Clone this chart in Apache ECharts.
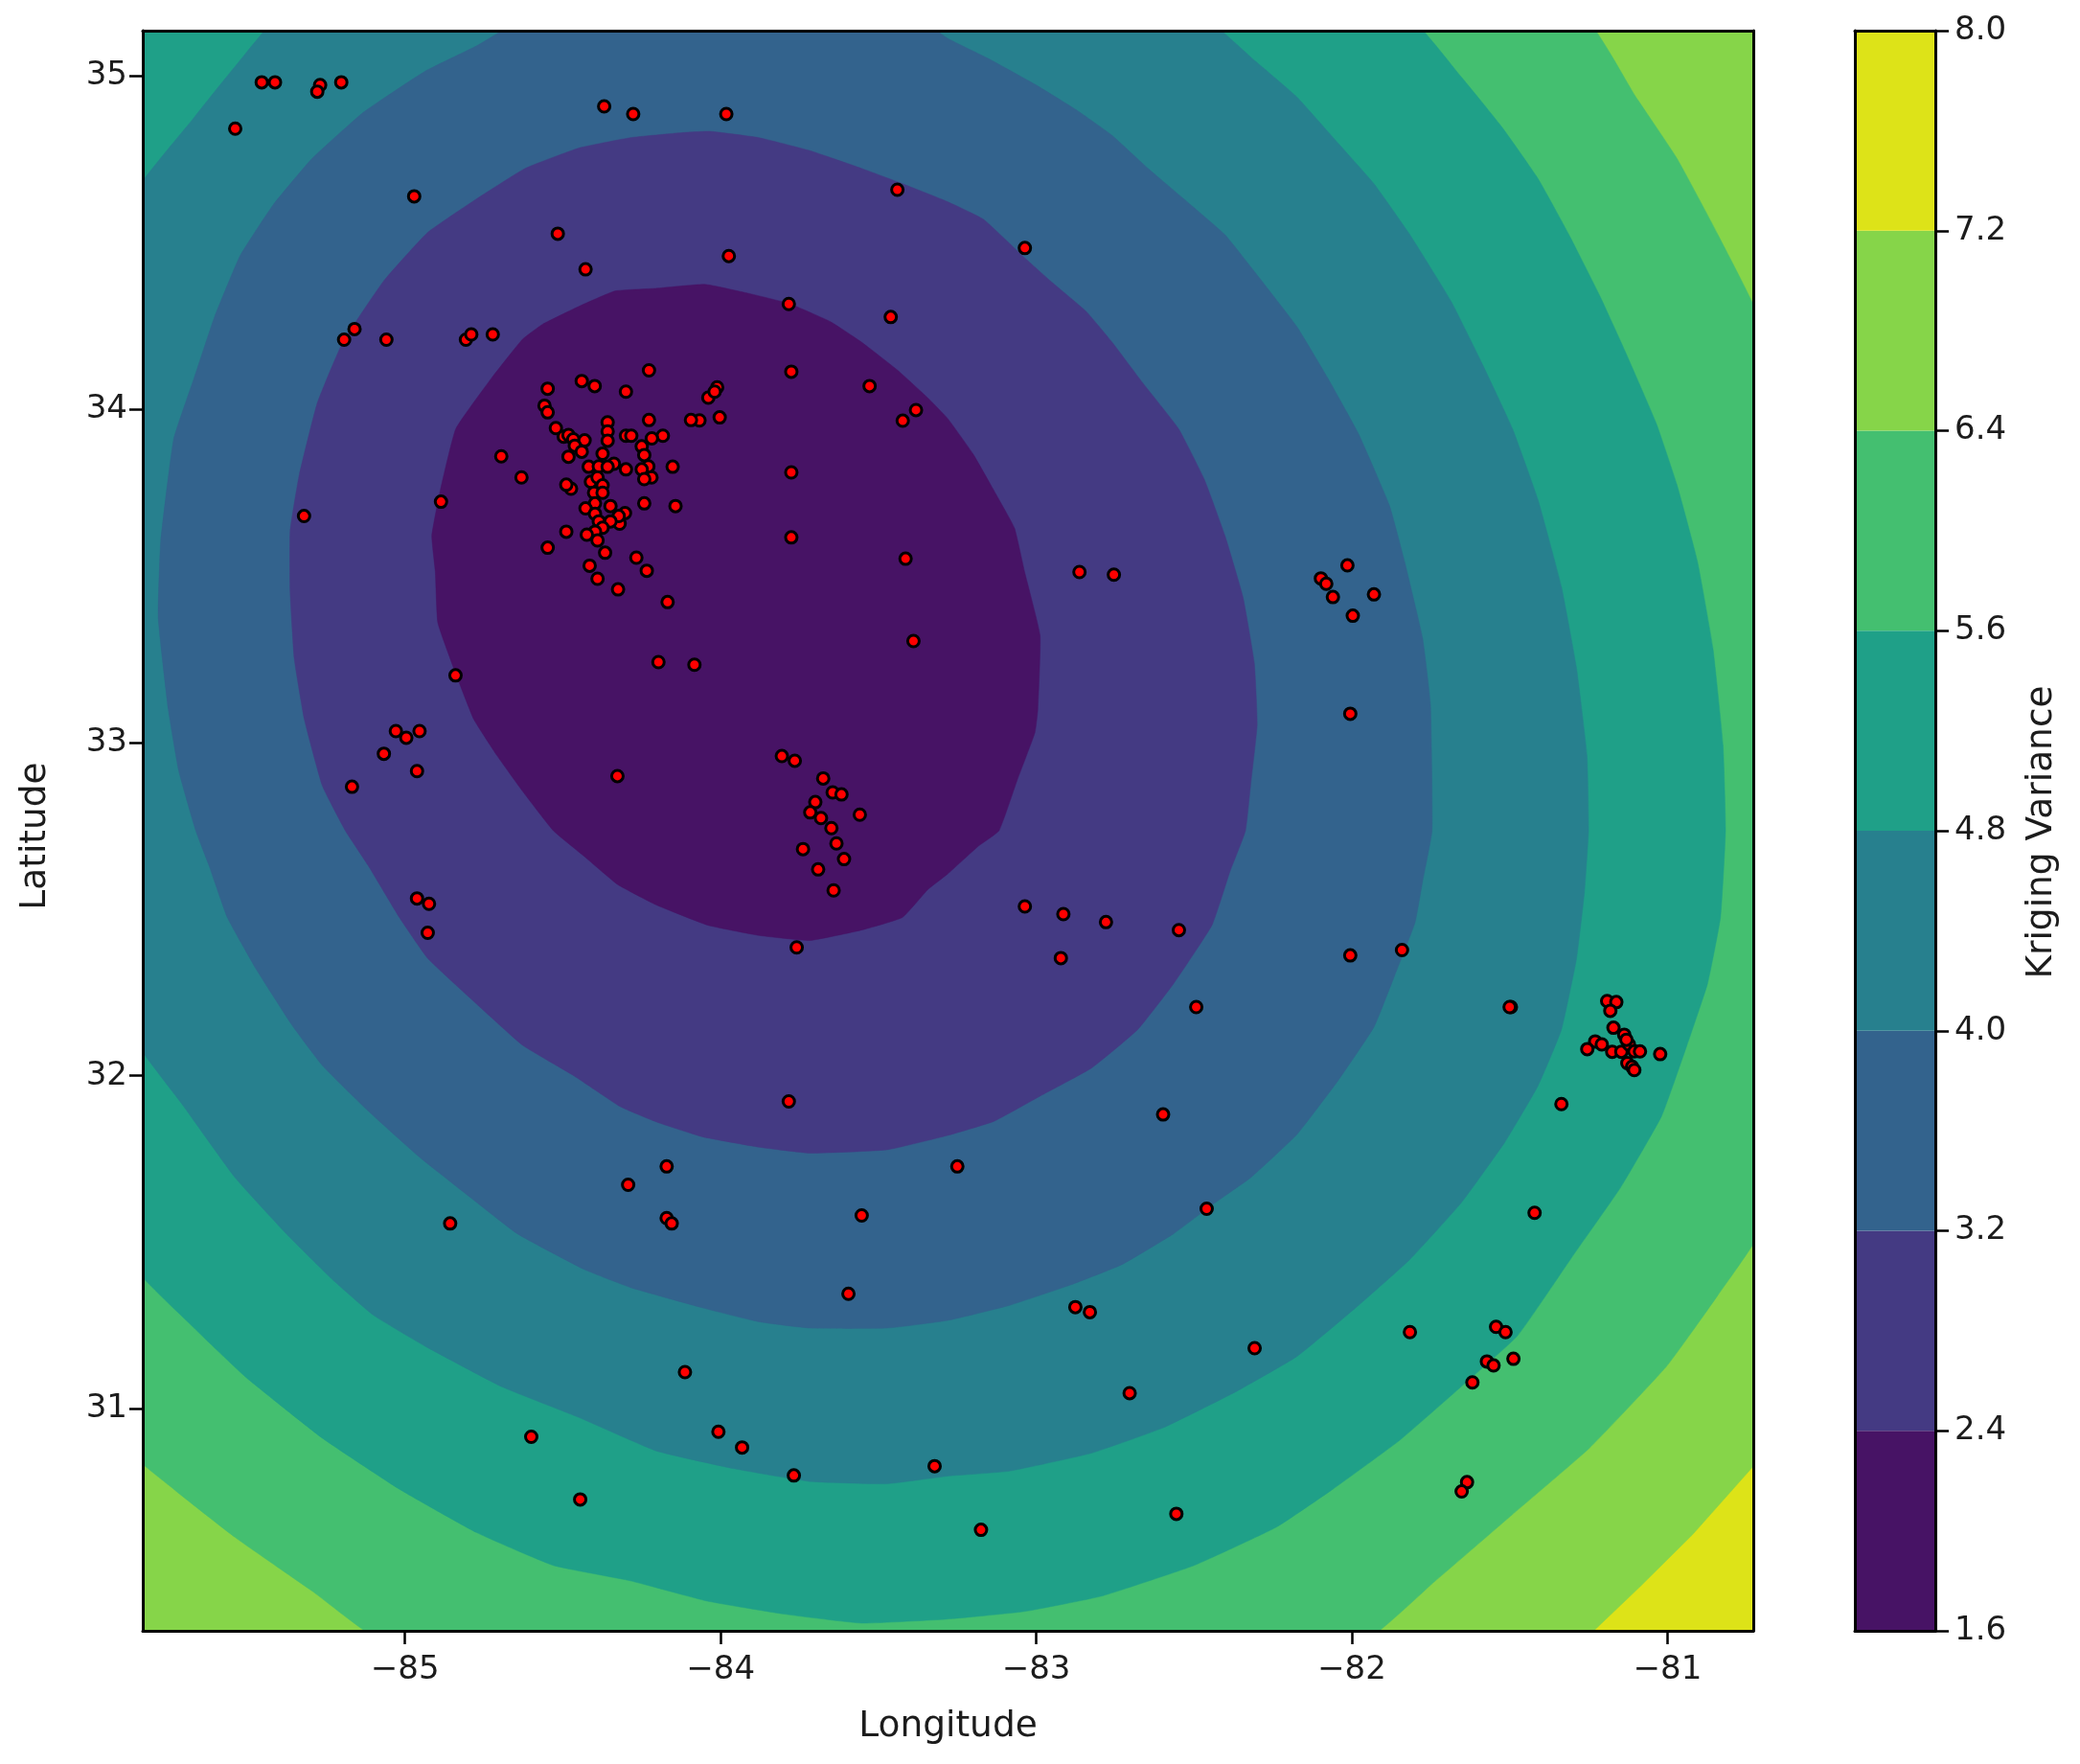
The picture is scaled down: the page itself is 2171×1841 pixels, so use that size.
<!DOCTYPE html>
<html><head><meta charset="utf-8">
<style>html,body{margin:0;padding:0;background:#fff}#c{width:2171px;height:1841px}</style>
<script src="https://cdn.jsdelivr.net/npm/echarts@6/dist/echarts.min.js"></script>
</head><body><div id="c"></div>
<script>
const lonTicks=[-85,-84,-83,-82,-81];
const latTicks=[31,32,33,34,35];
const levels=[1.6,2.4,3.2,4.0,4.8,5.6,6.4,7.2,8.0];
const bandColors=['#471365','#443a83','#33638d','#27808e','#1fa088','#44bf70','#86d549','#dde318'];
const lonRange=[-85.831,-80.728];
const latRange=[30.335,35.135];

const fullField=[[-85.84,35.14],[-80.72,35.14],[-80.72,30.33],[-85.84,30.33]];
const below72=[[-85.84,35.14],[-80.745,35.14],[-80.72,35.115],[-80.72,30.837],[-80.921,30.623],[-81.084,30.47],[-81.239,30.33],[-85.84,30.33]];
const below64=[[-86.2,35.5],[-81.29,35.2],[-81.1,34.936],[-80.97,34.752],[-80.84,34.523],[-80.68,34.2],[-80.68,31.58],[-80.84,31.342],[-81.003,31.128],[-81.247,30.883],[-81.491,30.684],[-81.735,30.485],[-82.0,30.28],[-85.03,30.28],[-85.294,30.454],[-85.538,30.615],[-85.733,30.76],[-85.9,30.904]];
const below56=[[-86.2,35.5],[-81.85,35.2],[-81.654,34.997],[-81.523,34.844],[-81.41,34.691],[-81.312,34.523],[-81.214,34.339],[-81.133,34.171],[-81.035,33.956],[-80.97,33.773],[-80.905,33.543],[-80.856,33.283],[-80.824,32.992],[-80.816,32.735],[-80.832,32.475],[-80.873,32.276],[-80.938,32.092],[-81.019,31.878],[-81.149,31.664],[-81.296,31.465],[-81.475,31.22],[-81.654,31.067],[-81.849,30.906],[-82.06,30.76],[-82.239,30.646],[-82.5,30.531],[-82.793,30.439],[-83.037,30.393],[-83.281,30.37],[-83.554,30.358],[-83.798,30.385],[-84.042,30.424],[-84.286,30.485],[-84.53,30.531],[-84.774,30.63],[-85.018,30.76],[-85.262,30.913],[-85.506,31.097],[-85.668,31.243],[-85.9,31.48]];
const below48=[[-85.9,34.58],[-85.668,34.875],[-85.538,35.028],[-85.37,35.2],[-82.51,35.2],[-82.305,35.043],[-82.174,34.936],[-82.044,34.798],[-81.93,34.676],[-81.816,34.523],[-81.686,34.324],[-81.589,34.14],[-81.491,33.941],[-81.41,33.727],[-81.336,33.467],[-81.288,33.222],[-81.255,32.961],[-81.25,32.735],[-81.263,32.551],[-81.288,32.352],[-81.336,32.138],[-81.41,31.97],[-81.515,31.801],[-81.654,31.618],[-81.816,31.449],[-81.979,31.311],[-82.174,31.158],[-82.37,31.051],[-82.598,30.944],[-82.825,30.868],[-83.086,30.814],[-83.281,30.799],[-83.473,30.776],[-83.717,30.783],[-83.961,30.822],[-84.205,30.875],[-84.449,30.975],[-84.693,31.067],[-84.937,31.189],[-85.099,31.281],[-85.229,31.388],[-85.376,31.526],[-85.538,31.694],[-85.701,31.908],[-85.9,32.18]];
const below40=[[-84.56,35.2],[-83.42,35.2],[-83.281,35.112],[-83.151,35.051],[-83.004,34.974],[-82.874,34.898],[-82.76,34.821],[-82.646,34.722],[-82.532,34.63],[-82.402,34.523],[-82.305,34.408],[-82.174,34.247],[-82.077,34.094],[-81.979,33.926],[-81.881,33.711],[-81.833,33.543],[-81.776,33.313],[-81.751,33.114],[-81.746,32.735],[-81.776,32.582],[-81.8,32.459],[-81.865,32.299],[-81.93,32.146],[-82.044,31.985],[-82.174,31.824],[-82.321,31.694],[-82.435,31.618],[-82.565,31.526],[-82.728,31.434],[-82.89,31.373],[-83.086,31.311],[-83.281,31.266],[-83.473,31.243],[-83.717,31.243],[-83.879,31.262],[-84.058,31.304],[-84.286,31.365],[-84.432,31.419],[-84.644,31.526],[-84.79,31.633],[-84.953,31.755],[-85.115,31.893],[-85.262,32.031],[-85.359,32.153],[-85.473,32.322],[-85.563,32.475],[-85.62,32.628],[-85.663,32.735],[-85.717,32.915],[-85.75,33.099],[-85.782,33.375],[-85.774,33.604],[-85.733,33.91],[-85.668,34.094],[-85.603,34.278],[-85.522,34.461],[-85.416,34.615],[-85.294,34.752],[-85.132,34.89],[-84.937,35.013],[-84.774,35.089]];
const below32=[[-84.034,34.833],[-83.879,34.814],[-83.717,34.775],[-83.554,34.722],[-83.424,34.676],[-83.281,34.622],[-83.167,34.569],[-83.037,34.454],[-82.956,34.385],[-82.842,34.293],[-82.76,34.201],[-82.663,34.079],[-82.549,33.941],[-82.467,33.788],[-82.402,33.62],[-82.345,33.436],[-82.309,33.237],[-82.3,33.053],[-82.321,32.87],[-82.337,32.735],[-82.386,32.613],[-82.443,32.452],[-82.565,32.276],[-82.679,32.138],[-82.825,32.023],[-82.988,31.939],[-83.135,31.863],[-83.281,31.821],[-83.473,31.778],[-83.717,31.768],[-83.879,31.786],[-84.058,31.817],[-84.205,31.862],[-84.319,31.908],[-84.465,32.0],[-84.628,32.092],[-84.79,32.23],[-84.928,32.352],[-85.018,32.475],[-85.115,32.628],[-85.189,32.735],[-85.262,32.87],[-85.319,33.069],[-85.351,33.252],[-85.364,33.451],[-85.364,33.635],[-85.335,33.803],[-85.278,34.018],[-85.197,34.201],[-85.067,34.385],[-84.928,34.53],[-84.774,34.63],[-84.619,34.722],[-84.449,34.783],[-84.286,34.814],[-84.123,34.829]];
const below24=[[-84.05,34.374],[-83.912,34.347],[-83.782,34.316],[-83.652,34.262],[-83.554,34.201],[-83.44,34.117],[-83.343,34.033],[-83.281,33.972],[-83.2,33.865],[-83.126,33.742],[-83.069,33.643],[-83.037,33.512],[-82.988,33.321],[-82.995,33.099],[-83.004,33.03],[-83.061,32.885],[-83.118,32.735],[-83.183,32.689],[-83.281,32.605],[-83.343,32.559],[-83.424,32.475],[-83.554,32.437],[-83.717,32.406],[-83.879,32.421],[-84.042,32.452],[-84.205,32.513],[-84.327,32.574],[-84.432,32.658],[-84.53,32.735],[-84.628,32.854],[-84.709,32.961],[-84.782,33.069],[-84.839,33.206],[-84.896,33.359],[-84.904,33.512],[-84.915,33.62],[-84.888,33.757],[-84.839,33.941],[-84.725,34.094],[-84.628,34.209],[-84.563,34.255],[-84.449,34.308],[-84.335,34.354],[-84.205,34.362]];

const stationsNorth=[[-85.538,34.841],[-85.454,34.98],[-85.412,34.98],[-85.269,34.972],[-85.278,34.952],[-85.202,34.98],[-84.369,34.908],[-84.277,34.885],[-83.982,34.885],[-84.971,34.638],[-84.516,34.526],[-84.428,34.419],[-83.974,34.459],[-83.44,34.658],[-83.036,34.483],[-83.784,34.315],[-83.461,34.276],[-85.16,34.24],[-85.193,34.208],[-85.059,34.208],[-84.807,34.208],[-84.79,34.224],[-84.722,34.224],[-83.776,34.112],[-83.528,34.069],[-83.381,33.997],[-83.423,33.965]];
const stationsAtlanta=[[-84.227,34.116],[-84.44,34.084],[-84.399,34.069],[-84.548,34.061],[-84.3,34.052],[-84.558,34.01],[-84.548,33.99],[-84.227,33.967],[-84.067,33.966],[-84.094,33.967],[-84.003,33.975],[-84.011,34.065],[-84.039,34.034],[-84.019,34.052],[-84.358,33.96],[-84.522,33.943],[-84.358,33.933],[-84.358,33.905],[-84.497,33.917],[-84.482,33.922],[-84.467,33.909],[-84.431,33.906],[-84.462,33.89],[-84.44,33.872],[-84.482,33.857],[-84.374,33.866],[-84.695,33.858],[-84.3,33.92],[-84.283,33.92],[-84.183,33.92],[-84.218,33.912],[-84.25,33.888],[-84.242,33.862],[-84.152,33.827],[-84.418,33.827],[-84.386,33.828],[-84.338,33.836],[-84.358,33.827],[-84.3,33.819],[-84.229,33.828],[-84.25,33.819],[-84.219,33.795],[-84.242,33.79],[-84.411,33.782],[-84.39,33.795],[-84.631,33.795],[-84.474,33.761],[-84.489,33.773],[-84.401,33.749],[-84.374,33.771],[-84.374,33.749],[-84.242,33.717],[-84.143,33.709],[-84.398,33.717],[-84.349,33.709],[-84.428,33.702],[-84.398,33.686],[-84.303,33.688],[-84.32,33.656],[-84.323,33.679],[-84.349,33.663],[-84.386,33.663],[-84.374,33.644],[-84.398,33.632],[-84.489,33.632],[-84.39,33.606],[-84.424,33.623],[-84.548,33.584],[-84.366,33.569],[-84.267,33.554],[-84.415,33.53],[-84.234,33.515],[-84.39,33.491],[-84.325,33.459],[-84.168,33.421]];
const stationsCentral=[[-84.886,33.722],[-85.32,33.679],[-83.776,33.81],[-83.776,33.615],[-83.414,33.551],[-82.863,33.511],[-82.754,33.503],[-83.389,33.304],[-84.197,33.241],[-84.083,33.233],[-84.84,33.201],[-82.014,33.531],[-82.098,33.492],[-82.081,33.476],[-82.06,33.436],[-81.93,33.444],[-81.997,33.38],[-82.005,33.086],[-85.029,33.034],[-84.996,33.014],[-84.954,33.034],[-85.067,32.966],[-84.962,32.914],[-85.168,32.867],[-84.327,32.899]];
const stationsMacon=[[-83.806,32.959],[-83.765,32.945],[-83.675,32.892],[-83.645,32.85],[-83.617,32.844],[-83.7,32.821],[-83.716,32.79],[-83.559,32.783],[-83.682,32.773],[-83.649,32.743],[-83.633,32.697],[-83.739,32.68],[-83.609,32.65],[-83.691,32.619],[-83.642,32.556]];
const stationsSouth=[[-83.759,32.385],[-84.962,32.532],[-84.924,32.516],[-84.928,32.429],[-83.036,32.508],[-82.914,32.485],[-82.922,32.353],[-82.779,32.461],[-82.548,32.437],[-82.005,32.361],[-81.841,32.377],[-82.493,32.206],[-81.496,32.206],[-81.5,32.206],[-83.784,31.923],[-82.598,31.884],[-81.336,31.915],[-83.25,31.728],[-84.171,31.728],[-84.293,31.673],[-82.46,31.601],[-81.421,31.589],[-84.857,31.557],[-84.171,31.573],[-84.155,31.557],[-83.553,31.581],[-83.595,31.346],[-82.876,31.306],[-82.83,31.291],[-81.816,31.231],[-81.543,31.247],[-81.513,31.231],[-82.308,31.183],[-81.572,31.143],[-81.551,31.131],[-81.488,31.151],[-81.618,31.08],[-84.113,31.111],[-82.704,31.048],[-84.6,30.917],[-84.007,30.932],[-83.932,30.885],[-83.768,30.801],[-83.322,30.829],[-84.445,30.729],[-83.175,30.638],[-82.556,30.686],[-81.635,30.781],[-81.652,30.753]];
const stationsSavannah=[[-81.191,32.224],[-81.162,32.221],[-81.181,32.195],[-81.171,32.144],[-81.137,32.123],[-81.229,32.103],[-81.208,32.094],[-81.254,32.08],[-81.175,32.072],[-81.146,32.072],[-81.122,32.094],[-81.13,32.108],[-81.105,32.073],[-81.087,32.073],[-81.127,32.038],[-81.112,32.027],[-81.105,32.017],[-81.023,32.065]];

const FONT='"DejaVu Sans"';
const TXT='#1c1c1c';
const LW=3;
const FS=34;
const NAME_FS=37.5;
const stations=[].concat(stationsNorth,stationsAtlanta,stationsCentral,stationsMacon,stationsSouth,stationsSavannah);
const contours=[fullField,below72,below64,below56,below48,below40,below32,below24];
const contourSmooth=[0,0,0.12,0.12,0.12,0.12,0.12,0.12];
const fillOrder=bandColors.slice().reverse();

const frameX=(pos,idx,extra)=>Object.assign({type:'value',gridIndex:idx,position:pos,z:10,splitLine:{show:false},
  axisLine:{show:true,onZero:false,lineStyle:{color:'#000',width:LW}},axisTick:{show:false},axisLabel:{show:false}},extra||{});

const option={
  animation:false,
  backgroundColor:'#fff',
  textStyle:{fontFamily:FONT},
  grid:[
    {left:149,top:32,width:1681,height:1670,containLabel:false},
    {left:1936,top:32,width:84,height:1670,containLabel:false}
  ],
  xAxis:[
    frameX('bottom',0,{min:lonRange[0],max:lonRange[1],
      name:'Longitude',nameLocation:'middle',nameGap:81,nameTextStyle:{color:TXT,fontSize:NAME_FS,fontFamily:FONT},
      axisTick:{show:true,length:14,lineStyle:{color:'#000',width:2.5},customValues:lonTicks},
      axisLabel:{show:true,color:TXT,fontSize:FS,fontFamily:FONT,margin:24,customValues:lonTicks,
        formatter:v=>'\u2212'+Math.abs(v)}}),
    frameX('top',0,{min:lonRange[0],max:lonRange[1]}),
    frameX('bottom',1,{min:0,max:1}),
    frameX('top',1,{min:0,max:1})
  ],
  yAxis:[
    frameX('left',0,{min:latRange[0],max:latRange[1],
      name:'Latitude',nameLocation:'middle',nameGap:93,nameTextStyle:{color:TXT,fontSize:NAME_FS,fontFamily:FONT,padding:[0,11,0,0]},
      axisTick:{show:true,length:14,lineStyle:{color:'#000',width:2.5},customValues:latTicks},
      axisLabel:{show:true,color:TXT,fontSize:FS,fontFamily:FONT,margin:16,padding:[4,0,0,0],customValues:latTicks,formatter:v=>String(v)}}),
    frameX('right',0,{min:latRange[0],max:latRange[1]}),
    frameX('right',1,{min:1.6,max:8,interval:0.8,
      name:'Kriging Variance',nameLocation:'middle',nameRotate:90,nameGap:92,nameTextStyle:{color:TXT,fontSize:NAME_FS,fontFamily:FONT,padding:[0,3,0,0]},
      axisTick:{show:true,length:14,lineStyle:{color:'#000',width:2.5}},
      axisLabel:{show:true,color:TXT,fontSize:FS,fontFamily:FONT,margin:20,padding:[8,0,0,0],formatter:v=>v.toFixed(1)}}),
    frameX('left',1,{min:1.6,max:8})
  ],
  series:[
    {type:'custom',xAxisIndex:0,yAxisIndex:0,clip:true,z:1,silent:true,
     data:contours.map((c,i)=>[i]),
     encode:{x:[],y:[]},
     renderItem:(params,api)=>{
       const i=params.dataIndex;
       return {type:'polygon',shape:{points:contours[i].map(p=>api.coord(p)),smooth:contourSmooth[i]},style:{fill:fillOrder[i],stroke:fillOrder[i],lineWidth:0.5}};
     }},
    {type:'scatter',xAxisIndex:0,yAxisIndex:0,z:3,symbol:'circle',symbolSize:12,silent:true,
     itemStyle:{color:'#ff0000',borderColor:'#000',borderWidth:3,opacity:1},
     data:stations},
    {type:'custom',xAxisIndex:2,yAxisIndex:2,clip:true,z:1,silent:true,
     data:bandColors.map((c,i)=>[levels[i],levels[i+1]]),
     encode:{x:[],y:[0,1]},
     renderItem:(params,api)=>{
       const a=api.coord([0,api.value(0)]),b=api.coord([1,api.value(1)]);
       return {type:'rect',shape:{x:a[0],y:b[1],width:b[0]-a[0],height:a[1]-b[1]},style:{fill:bandColors[params.dataIndex]}};
     }}
  ]
};
const chart=echarts.init(document.getElementById('c'),null,{renderer:'canvas',width:2171,height:1841});
chart.setOption(option);
</script></body></html>
